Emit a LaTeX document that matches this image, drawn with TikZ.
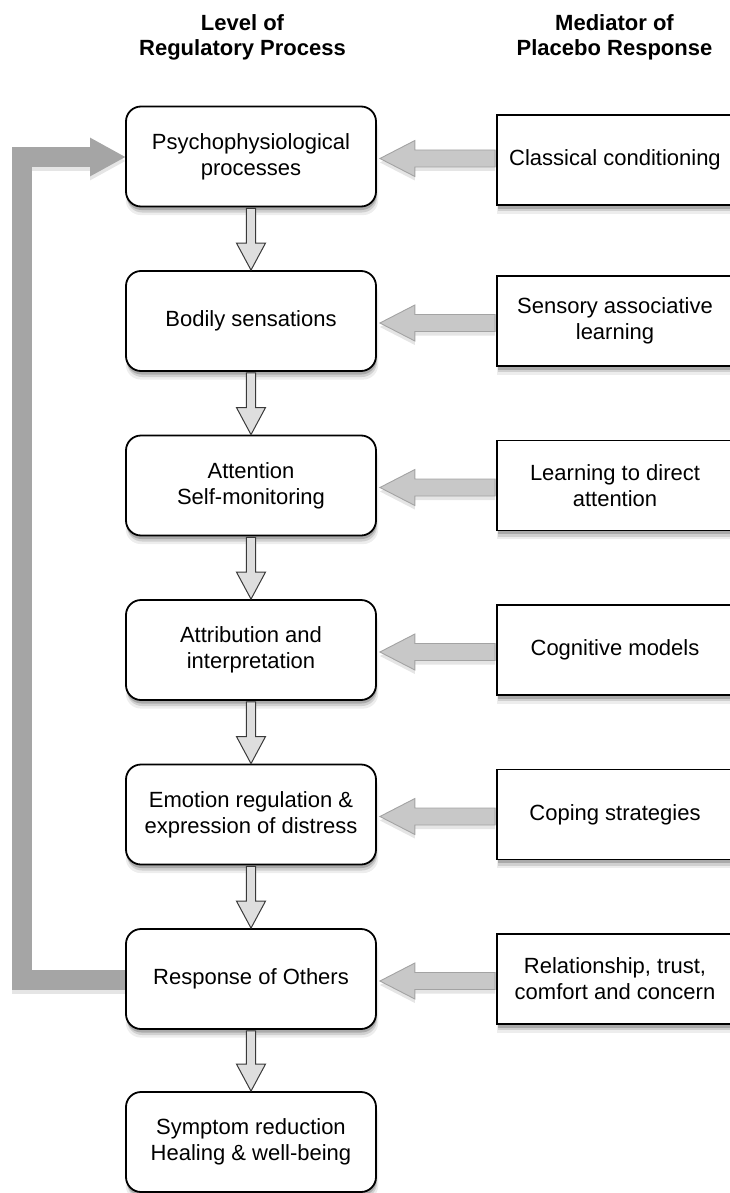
\documentclass[tikz,border=0pt]{standalone}
\usepackage{fontspec}
\setmainfont{Liberation Sans}
\usetikzlibrary{calc,shadows,arrows.meta}
\definecolor{fbgray}{HTML}{A5A5A5}
\definecolor{hfill}{HTML}{C8C8C8}
\definecolor{hline}{HTML}{A3A3A3}
\definecolor{vfill}{HTML}{DEDEDE}
\definecolor{vline}{HTML}{3A3A3A}
\begin{document}
\begin{tikzpicture}[x=1pt,y=-1pt,
  softshadow/.style={
    general shadow={shadow yshift=-8pt, shadow xshift=1pt, shadow scale=1.01, fill=black, opacity=0.07},
    general shadow={shadow yshift=-6pt, shadow xshift=1pt, fill=black, opacity=0.12},
    general shadow={shadow yshift=-3.5pt, shadow xshift=0.5pt, fill=black, opacity=0.18}},
  txt/.style={font=\fontsize{22}{26}\selectfont, align=center, text=black},
  hdr/.style={font=\bfseries\fontsize{22}{25}\selectfont, align=center, text=black},
  lbox/.style={txt, draw=black, line width=1.8pt, fill=white, rounded corners=15pt,
    minimum width=250pt, minimum height=100pt, inner sep=0pt, softshadow},
  mbox/.style={txt, draw=black, line width=1.8pt, fill=white,
    minimum width=236pt, minimum height=90pt, inner sep=0pt, softshadow},
  harrow/.style={fill=hfill, draw=hline, line width=0.9pt, line join=miter,
    general shadow={shadow yshift=-4pt, fill=black, opacity=0.10}},
  varrow/.style={fill=vfill, draw=vline, line width=1pt, line join=miter},
  fbarrow/.style={draw=fbgray, line width=20pt, line join=miter,
    -{Triangle[length=36pt,width=36pt]}}
]
\useasboundingbox (0,0) rectangle (729,1193);

% headers
\node[hdr] (h1) at (242.5,37) {Level of\\Regulatory Process};
\node[hdr] (h2) at (614.5,37) {Mediator of\\Placebo Response};

% feedback arrow (behind boxes)
\coordinate (fbstart) at (126,980);
\coordinate (fbend) at (126,157);
\draw[fbarrow, draw=black, opacity=0.10, transform canvas={yshift=-4pt}] (fbstart) -- ++(-104,0) |- (fbend);
\draw[fbarrow] (fbstart) -- ++(-104,0) |- (fbend);

% left column
\node[lbox] (b1) at (251,156.5) {Psychophysiological\\processes};
\node[lbox] (b2) at (251,321) {Bodily sensations};
\node[lbox] (b3) at (251,485.5) {Attention\\Self-monitoring};
\node[lbox] (b4) at (251,650) {Attribution and\\interpretation};
\node[lbox] (b5) at (251,814.5) {Emotion regulation \&\\expression of distress};
\node[lbox] (b6) at (251,979) {Response of Others};
\node[lbox] (b7) at (251,1142) {Symptom reduction\\Healing \& well-being};

% right column
\node[mbox] (m1) at (615,160) {Classical conditioning};
\node[mbox] (m2) at (615,321) {Sensory associative\\learning};
\node[mbox] (m3) at (615,485.5) {Learning to direct\\attention};
\node[mbox] (m4) at (615,650) {Cognitive models};
\node[mbox] (m5) at (615,814.5) {Coping strategies};
\node[mbox] (m6) at (615,979) {Relationship, trust,\\comfort and concern};

% vertical arrows
\foreach \k/\n in {1/2,2/3,3/4,4/5,5/6,6/7} {
  \draw[varrow] ($(b\k.south)+(-4.7,1)$) -- ($(b\n.north)+(-4.7,-27)$) -- ++(-9.8,0)
    -- (b\n.north) -- ($(b\n.north)+(14.5,-27)$) -- ++(-9.8,0)
    -- ($(b\k.south)+(4.7,1)$) -- cycle;
}

% horizontal arrows
\foreach \k in {1,...,6} {
  \draw[harrow] ($(b\k.east)+(3,2)$) -- ++(35,-18) -- ++(0,9.5)
    -- ($(b\k.east -| m\k.west)+(-1,-6.5)$) -- ($(b\k.east -| m\k.west)+(-1,10.5)$)
    -- ($(b\k.east)+(38,10.5)$) -- ++(0,9.5) -- cycle;
}
\end{tikzpicture}
\end{document}
